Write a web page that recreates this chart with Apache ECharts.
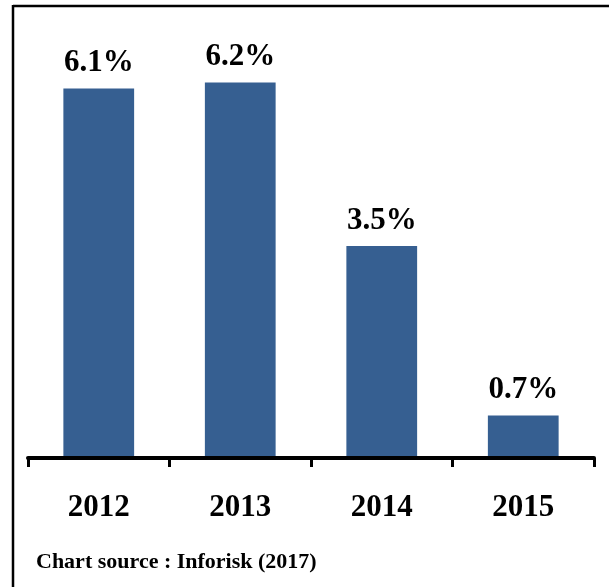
<!DOCTYPE html>
<html>
<head>
<meta charset="utf-8">
<script src="https://cdn.jsdelivr.net/npm/echarts@6/dist/echarts.min.js"></script>
<style>
html,body{margin:0;padding:0;background:#fff;overflow:hidden;}
#chart{width:609px;height:587px;}
</style>
</head>
<body>
<div id="chart"></div>
<script>
const categories = ['2012', '2013', '2014', '2015'];
const values = [6.1, 6.2, 3.5, 0.7];
const sourceText = 'Chart source : Inforisk (2017)';

const chart = echarts.init(document.getElementById('chart'), null, {renderer: 'canvas'});
const serif = '"Liberation Serif", "Times New Roman", serif';
chart.setOption({
  animation: false,
  backgroundColor: '#fff',
  title: {
    text: sourceText,
    left: 31,
    top: 546,
    textStyle: {fontFamily: serif, fontWeight: 'bold', fontSize: 22, color: '#000'}
  },
  graphic: [
    {type: 'line', shape: {x1: 13, y1: 6, x2: 609, y2: 6}, style: {stroke: '#000', lineWidth: 2.5}, silent: true},
    {type: 'line', shape: {x1: 13, y1: 5, x2: 13, y2: 587}, style: {stroke: '#000', lineWidth: 2.5}, silent: true}
  ],
  grid: {left: 28, right: 15, top: 34, bottom: 129},
  xAxis: {
    type: 'category',
    data: categories,
    z: 5,
    axisLine: {show: true, lineStyle: {color: '#000', width: 4}},
    axisTick: {show: true, length: 9, lineStyle: {color: '#000', width: 3}},
    axisLabel: {margin: 34, fontFamily: serif, fontWeight: 'bold', fontSize: 31, color: '#000'}
  },
  yAxis: {
    type: 'value', min: 0, max: 7, show: false,
    splitLine: {show: false}
  },
  series: [{
    type: 'bar',
    data: values,
    barWidth: '50%',
    itemStyle: {color: '#365F91'},
    label: {
      show: true, position: 'top', distance: 10,
      formatter: p => p.value.toFixed(1) + '%',
      fontFamily: serif, fontWeight: 'bold', fontSize: 31, color: '#000'
    }
  }]
});
</script>
</body>
</html>
